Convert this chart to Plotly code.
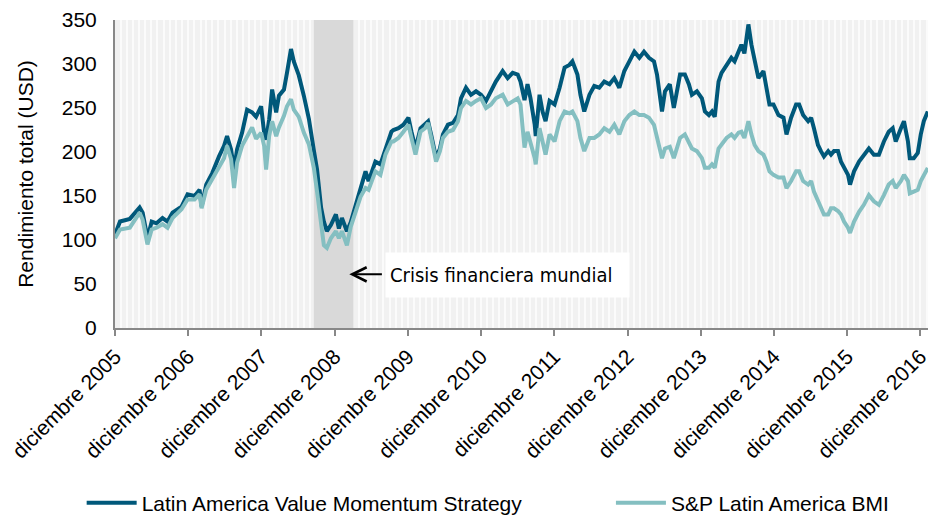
import plotly.graph_objects as go

# ---------------- data ----------------
dates = [
    "2005-12-01", "2005-12-26", "2006-02-13", "2006-04-03", "2006-04-18", "2006-05-08", "2006-05-12",
    "2006-06-02", "2006-06-26", "2006-07-26", "2006-08-20", "2006-09-14", "2006-10-29", "2006-11-28",
    "2007-01-02", "2007-01-27", "2007-02-06", "2007-03-01", "2007-03-31", "2007-05-04", "2007-05-29",
    "2007-06-13", "2007-07-03", "2007-07-18", "2007-08-02", "2007-08-27", "2007-09-21", "2007-10-16",
    "2007-11-05", "2007-11-30", "2007-12-15", "2007-12-25", "2008-01-09", "2008-01-24", "2008-02-13",
    "2008-02-27", "2008-03-23", "2008-04-07", "2008-04-27", "2008-05-11", "2008-06-05", "2008-06-30",
    "2008-07-25", "2008-08-19", "2008-09-04", "2008-09-24", "2008-10-08", "2008-10-23", "2008-11-12",
    "2008-12-07", "2008-12-22", "2009-01-06", "2009-01-31", "2009-02-19", "2009-03-15", "2009-04-09",
    "2009-05-04", "2009-05-19", "2009-06-22", "2009-07-17", "2009-08-11", "2009-09-10", "2009-09-20",
    "2009-10-15", "2009-11-09", "2009-12-04", "2009-12-19", "2010-01-08", "2010-02-02", "2010-02-25",
    "2010-03-12", "2010-03-27", "2010-04-21", "2010-05-10", "2010-05-25", "2010-06-19", "2010-07-14",
    "2010-08-08", "2010-08-23", "2010-09-17", "2010-10-12", "2010-11-06", "2010-12-01", "2010-12-26",
    "2011-01-20", "2011-02-13", "2011-03-19", "2011-04-13", "2011-05-08", "2011-06-02", "2011-06-16",
    "2011-07-06", "2011-07-21", "2011-08-05", "2011-08-26", "2011-08-31", "2011-09-19", "2011-10-04",
    "2011-10-19", "2011-11-08", "2011-12-03", "2011-12-28", "2012-01-22", "2012-02-15", "2012-03-01",
    "2012-03-26", "2012-04-10", "2012-04-29", "2012-05-25", "2012-06-18", "2012-07-13", "2012-08-07",
    "2012-09-02", "2012-09-26", "2012-10-21", "2012-11-15", "2012-12-10", "2013-01-04", "2013-01-29",
    "2013-02-21", "2013-03-18", "2013-04-12", "2013-04-27", "2013-05-12", "2013-05-22", "2013-06-06",
    "2013-06-30", "2013-07-20", "2013-08-04", "2013-08-20", "2013-09-13", "2013-10-03", "2013-10-18",
    "2013-11-12", "2013-12-07", "2013-12-22", "2014-01-11", "2014-01-26", "2014-02-09", "2014-02-28",
    "2014-03-15", "2014-04-09", "2014-05-03", "2014-05-19", "2014-06-08", "2014-06-22", "2014-07-07",
    "2014-07-27", "2014-08-11", "2014-08-27", "2014-09-15", "2014-10-10", "2014-10-25", "2014-11-09",
    "2014-11-29", "2014-12-24", "2015-01-18", "2015-02-02", "2015-02-25", "2015-03-22", "2015-04-06",
    "2015-04-26", "2015-05-21", "2015-06-05", "2015-06-19", "2015-07-09", "2015-07-24", "2015-08-08",
    "2015-08-29", "2015-09-12", "2015-09-27", "2015-10-17", "2015-11-01", "2015-11-16", "2015-12-06",
    "2015-12-16", "2016-01-05", "2016-01-30", "2016-02-23", "2016-03-19", "2016-04-13", "2016-05-08",
    "2016-06-02", "2016-06-26", "2016-07-16", "2016-07-31", "2016-08-26", "2016-09-10", "2016-09-30",
    "2016-10-09", "2016-10-29", "2016-11-18", "2016-12-03", "2016-12-18", "2017-01-07",
]

value_momentum = [
    106, 121, 124, 137, 131, 108, 102,
    121, 119, 125, 121, 131, 138, 152,
    150, 157, 138, 163, 176, 195, 207,
    218, 203, 180, 203, 222, 248, 245,
    240, 252, 222, 214, 237, 271, 245,
    264, 271, 290, 317, 303, 287, 264,
    238, 202, 180, 137, 121, 110, 117,
    129, 113, 125, 110, 120, 140, 159,
    178, 167, 189, 186, 204, 223, 225,
    227, 231, 239, 223, 204, 227, 231,
    235, 220, 193, 204, 220, 231, 233,
    242, 261, 273, 265, 269, 265, 258,
    269, 280, 292, 284, 290, 288, 280,
    259, 277, 261, 231, 218, 265, 246,
    235, 258, 254, 273, 296, 299, 303,
    288, 265, 246, 265, 275, 273, 280,
    277, 284, 273, 292, 303, 314, 307,
    314, 307, 303, 288, 258, 246, 269,
    277, 250, 269, 288, 288, 277, 265,
    269, 261, 246, 242, 246, 240, 280,
    290, 299, 307, 303, 314, 322, 312,
    345, 322, 303, 284, 292, 273, 254,
    254, 242, 239, 220, 239, 254, 254,
    242, 235, 239, 227, 208, 201, 195,
    201, 197, 201, 201, 189, 182, 174,
    163, 178, 189, 197, 204, 197, 197,
    212, 223, 227, 212, 227, 235, 212,
    193, 193, 199, 220, 235, 246,
]

sp_latam_bmi = [
    102, 112, 114, 131, 123, 100, 95,
    112, 114, 118, 114, 125, 135, 146,
    146, 152, 136, 157, 169, 184, 193,
    207, 192, 159, 188, 207, 218, 228,
    215, 222, 207, 180, 218, 235, 218,
    228, 241, 252, 260, 248, 240, 222,
    209, 182, 155, 114, 94, 91, 102,
    110, 102, 110, 94, 115, 132, 149,
    159, 157, 178, 174, 197, 212, 212,
    216, 223, 231, 216, 197, 223, 227,
    233, 216, 189, 201, 216, 223, 225,
    235, 250, 258, 254, 258, 261, 250,
    254, 261, 265, 254, 258, 261, 254,
    205, 223, 212, 193, 186, 227, 212,
    197, 220, 212, 235, 246, 244, 246,
    235, 216, 201, 216, 216, 220, 227,
    223, 231, 220, 235, 242, 246, 242,
    242, 239, 231, 216, 201, 193, 204,
    206, 193, 204, 216, 220, 212, 204,
    201, 193, 182, 182, 186, 182, 204,
    208, 216, 220, 216, 222, 223, 216,
    235, 220, 208, 201, 197, 189, 178,
    174, 171, 171, 159, 167, 178, 178,
    167, 163, 167, 155, 144, 136, 129,
    129, 136, 136, 133, 129, 121, 114,
    108, 121, 132, 140, 151, 144, 140,
    151, 163, 167, 159, 167, 174, 167,
    153, 155, 157, 167, 174, 182,
]

tick_dates = ["2005-12-01", "2006-12-01", "2007-12-01", "2008-12-01", "2009-12-01", "2010-12-01",
              "2011-12-01", "2012-12-01", "2013-12-01", "2014-12-01", "2015-12-01", "2016-12-01"]
tick_labels = ["diciembre 2005", "diciembre 2006", "diciembre 2007", "diciembre 2008",
               "diciembre 2009", "diciembre 2010", "diciembre 2011", "diciembre 2012",
               "diciembre 2013", "diciembre 2014", "diciembre 2015", "diciembre 2016"]

series_names = ["Latin America Value Momentum Strategy", "S&P Latin America BMI"]
crisis_start, crisis_end = "2008-08-19", "2009-03-05"
crisis_label = "Crisis financiera mundial"
y_min, y_max = 0, 350

# ---------------- styling ----------------
DARK = "#00587a"
LIGHT = "#84bfc1"
AXIS = "#888888"
FONT = "Liberation Sans, Arial, sans-serif"
CONDENSED = "DejaVu Sans Condensed, Liberation Sans, Arial, sans-serif"

fig = go.Figure()
# crisis shading (drawn first so the lines sit on top of it)
fig.add_trace(go.Scatter(x=[crisis_start, crisis_end, crisis_end, crisis_start, crisis_start],
                         y=[y_min, y_min, y_max, y_max, y_min], fill="toself",
                         fillcolor="#d9d9d9", line=dict(width=0), mode="lines",
                         showlegend=False, hoverinfo="skip"))
fig.add_trace(go.Scatter(x=dates, y=value_momentum, mode="lines", name=series_names[0],
                         line=dict(color=DARK, width=4), legend="legend"))
fig.add_trace(go.Scatter(x=dates, y=sp_latam_bmi, mode="lines", name=series_names[1],
                         line=dict(color=LIGHT, width=4), legend="legend2"))

# label box
fig.add_annotation(x="2009-08-11", y=60, xref="x", yref="y", text=crisis_label,
                   showarrow=False, xanchor="left", yanchor="middle", align="left",
                   width=235, height=36, borderpad=4, bgcolor="white",
                   font=dict(family=CONDENSED, size=20, color="black"))
# arrow
fig.add_annotation(x="2009-02-12", y=61, ax="2009-08-01", ay=61, xref="x", yref="y",
                   axref="x", ayref="y", text="", showarrow=True, arrowhead=5,
                   arrowsize=1.4, arrowwidth=2, arrowcolor="black")

legend_common = dict(orientation="h", xanchor="left", yref="container", y=1 - 503 / 515,
                     yanchor="middle", font=dict(size=21), itemwidth=50,
                     bgcolor="rgba(0,0,0,0)")
fig.update_layout(
    width=932, height=515,
    margin=dict(l=115, r=1, t=20, b=187),
    paper_bgcolor="white",
    plot_bgcolor="#f1f1f1",
    font=dict(family=FONT, size=21, color="black"),
    showlegend=True,
    legend=dict(x=-0.041, **legend_common),
    legend2=dict(x=0.610, **legend_common),
)
fig.update_xaxes(
    type="date", range=["2005-12-01", "2017-01-08"],
    tickvals=tick_dates, ticktext=tick_labels, tickangle=-45, ticklabeloverflow="allow",
    tickfont=dict(size=21), ticks="outside", ticklen=6, tickwidth=2, tickcolor=AXIS,
    showline=True, linecolor=AXIS, linewidth=2, showgrid=False, zeroline=False,
    minor=dict(dtick="M1", tick0="2005-12-01", showgrid=True, gridcolor="#fbfbfb", gridwidth=2),
)
fig.update_yaxes(
    range=[y_min, y_max], dtick=50, tick0=0, showgrid=False, zeroline=False,
    showline=True, linecolor=AXIS, linewidth=2, ticks="", tickfont=dict(size=21),
    ticklabelstandoff=12, automargin=False,
    title=dict(text="Rendimiento total (USD)", font=dict(size=21), standoff=22),
)

fig.write_html("out.html", config={"displayModeBar": False},
               post_script="document.body.style.margin='0px';")
